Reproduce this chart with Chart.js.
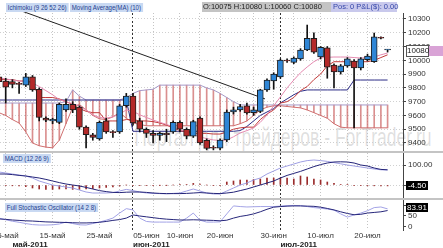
<!DOCTYPE html>
<html>
<head>
<meta charset="utf-8">
<script src="https://cdn.jsdelivr.net/npm/chart.js"></script>
<style>
html,body{margin:0;padding:0;background:#fff;}
body{width:443px;height:248px;overflow:hidden;position:relative;font-family:"Liberation Sans",Arial,sans-serif;}
canvas{position:absolute;left:0;z-index:1;}
#wm{position:absolute;right:11px;top:125px;font-size:25px;line-height:25px;color:rgba(110,110,110,0.22);white-space:nowrap;transform:scaleX(0.7);transform-origin:right top;z-index:0;}
.sep{position:absolute;left:0;width:443px;height:2px;background:#c4c4c4;z-index:2;}
.lb{position:absolute;z-index:3;font-size:7px;line-height:9px;height:9px;padding:0 2px;background:#c9d9f2;color:#23408f;white-space:nowrap;transform:scaleX(0.87);transform-origin:left top;}
#ohlc{position:absolute;z-index:3;left:202px;top:2px;width:195px;height:10px;background:#c4c4c4;color:#222;font-size:7.5px;line-height:10px;white-space:nowrap;}
#ohlc .t{position:absolute;left:1px;top:0;}
#ohlc .p{position:absolute;left:129px;top:0;width:66px;height:10px;background:#c9c9ec;color:#3345a8;padding-left:2px;box-sizing:border-box;}
.mk{position:absolute;z-index:3;font-size:8px;line-height:9px;height:9px;text-align:center;}
</style>
</head>
<body>
<div id="wm">Портал для трейдеров - ForTrader.ru</div>
<canvas id="cMain" width="443" height="151" style="top:0"></canvas>
<canvas id="cMacd" width="443" height="45" style="top:153px"></canvas>
<canvas id="cStoch" width="443" height="48" style="top:200px"></canvas>
<div class="sep" style="top:151px"></div>
<div class="sep" style="top:198px"></div>
<div class="lb" style="left:6px;top:3px">Ichimoku (9 26 52 26)</div>
<div class="lb" style="left:70px;top:3px">Moving Average(MA) (10)</div>
<div id="ohlc"><span class="t" id="ohlcText"></span><span class="p">Pos: 0 P&amp;L($): 0.00</span></div>
<div class="lb" style="left:3px;top:154px">MACD (12 26 9)</div>
<div class="lb" style="left:5px;top:203px">Full Stochastic Oscillator (14 2 8)</div>
<div class="mk" id="mkPrice" style="left:406px;top:45px;width:21px;height:10px;line-height:10px;border:1px solid #555;background:#fff;color:#222;"></div>
<div style="position:absolute;left:429px;top:46px;width:14px;height:10px;background:#d9a3d6;z-index:3"></div>
<div class="mk" id="mkMacd" style="left:406px;top:181px;width:22px;background:#000;color:#fff;"></div>
<div class="mk" id="mkStoch" style="left:406px;top:203px;width:22px;background:#000;color:#fff;"></div>
<script>
// ---------- DATA ----------
const dates = ['04.05','05.05','06.05','09.05','10.05','11.05','12.05','13.05','16.05','17.05','18.05','19.05','20.05','23.05','24.05','25.05','26.05','27.05','30.05','31.05',
'01.06','02.06','03.06','06.06','07.06','08.06','09.06','10.06','13.06','14.06','15.06','16.06','17.06','20.06','21.06','22.06','23.06','24.06','27.06','28.06','29.06','30.06',
'01.07','04.07','05.07','06.07','07.07','08.07','11.07','12.07','13.07','14.07','15.07','18.07','19.07','20.07','21.07','22.07','25.07'];

const open  = [9880,9850,9845,9830,9820,9880,9790,9580,9560,9550,9640,9680,9660,9515,9460,9430,9560,9480,9480,9670,9740,9560,9500,9470,9455,9470,9480,9550,9500,9450,9580,9420,9368,9362,9422,9625,9640,9670,9620,9630,9785,9850,9880,10000,9985,10010,10075,10160,10025,10090,9966,9915,9960,9995,9945,10005,9990,10165,10075];
const high  = [9900,9870,9860,9840,9905,9890,9800,9590,9580,9690,9720,9700,9670,9525,9470,9560,9580,9490,9680,9760,9760,9580,9510,9490,9480,9500,9560,9560,9510,9565,9590,9430,9380,9430,9640,9660,9680,9690,9660,9790,9865,9910,10010,10010,10025,10085,10256,10200,10100,10100,9975,9970,10020,10005,10020,10045,10198,10170,10080];
const low   = [9830,9690,9800,9760,9810,9775,9560,9555,9540,9540,9630,9620,9500,9365,9420,9420,9470,9440,9470,9660,9530,9480,9440,9400,9420,9410,9470,9480,9430,9440,9390,9350,9350,9350,9410,9610,9630,9610,9600,9620,9775,9790,9870,9985,9975,10000,10070,10050,10010,9870,9800,9900,9950,9510,9930,9995,9985,10155,10060];
const close = [9845,9806,9826,9825,9880,9785,9585,9565,9572,9680,9680,9640,9515,9460,9440,9550,9480,9475,9670,9740,9545,9500,9470,9455,9470,9460,9550,9500,9450,9555,9400,9360,9362,9422,9625,9640,9665,9618,9640,9785,9857,9900,10002,9995,10017,10075,10160,10060,10095,9950,9915,9960,10010,9945,10010,10030,10170,10160,10080];

const senkouA = [9620,9600,9570,9545,9480,9400,9380,9370,9365,9420,9540,9660,9680,9640,9600,9575,9570,9590,9620,9580,9545,9535,
9525,9525,9525,9525,9525,9525,9525,9525,9525,9525,9525,9525,9525,9525,
9540,9560,9600,9640,9660,9670,9670,9665,9660,9655,9640,9620,9600,9580,9540,9515,
9510,9510,9510,9510,9510,9510,9510];
const senkouB = [9690,9690,9690,9690,9690,9690,9690,9690,9690,9690,9700,9785,9740,9712,9712,9712,9712,9712,9712,9730,9760,9780,9785,9790,
9820,9820,9820,9820,9820,9820,9820,9800,9785,9760,9730,9700,
9676,9676,9676,9676,9676,9676,9676,9676,9676,9676,9676,9676,9676,9676,9676,9676,9676,9676,9676,9676,9676,9676,9676];
const kijun = [9712,9712,9712,9712,9712,9712,9712,9712,9712,9712,9712,9712,9712,9712,9712,9712,9712,9712,9712,9712,
9485,9485,9485,9485,9485,9485,9485,9485,9485,9485,9485,9485,9485,9485,9485,9485,
9490,9520,9560,9600,9625,9650,9690,9720,9750,9775,
9785,9785,9785,9785,9785,9785,9785,9857,9857,9857,9857,9857,9857];
const tenkan = [9860,9860,9860,9850,9850,9840,9730,9730,9730,9720,9700,9680,9650,9630,9620,9620,9560,9560,9560,9570,9570,9560,9560,9555,9545,9530,9510,9490,9480,9470,9470,9470,9465,9465,9480,9500,9510,9515,9515,9570,9610,9640,9690,9700,9730,9780,9810,9860,9900,9960,9990,9990,9990,9990,9990,9990,10000,10020,10040];
const ma10 = [9872,9865,9857,9850,9845,9835,9810,9780,9750,9715,9700,9685,9670,9640,9605,9585,9580,9590,9610,9640,9630,9605,9585,9567,9550,9535,9516,9500,9480,9460,9444,9432,9422,9418,9422,9445,9473,9490,9509,9550,9603,9670,9734,9800,9857,9910,9952,9990,10017,10022,10024,10024,10024,10020,10017,10020,10024,10040,10053];
const trendIdx = [2.7, 39.7];
const trendPrice = [10370, 9720];

const macd = [65,60,55,50,45,35,20,10,0,-5,-10,-15,-25,-35,-40,-40,-40,-38,-30,-22,-28,-35,-40,-42,-43,-44,-42,-40,-30,-20,-30,-40,-45,-45,-30,-15,0,10,25,35,55,70,85,95,105,115,122,125,122,118,112,106,100,95,90,85,80,76,75];
const signal = [55,55,52,48,45,40,35,28,20,12,5,0,-5,-12,-20,-28,-33,-37,-38,-36,-35,-35,-37,-40,-42,-43,-43,-43,-42,-40,-38,-40,-42,-43,-40,-36,-28,-20,-10,0,10,20,35,48,58,68,80,92,102,110,115,116,115,110,100,95,85,78,76];
const hist = [-2,-3,-4,-5,-8,-15,-20,-22,-22,-20,-20,-22,-22,-20,-18,-15,-12,-10,-5,0,-2,-3,-3,-2,-1,-1,0,2,3,8,5,0,-2,-2,15,20,25,25,28,30,35,35,35,35,30,45,40,30,25,15,8,3,2,-3,-3,-4,-4,-4,-4.5];

const stochK = [40,32,25,20,14,9,7,7,8,12,21,14,8,7,14,21,30,40,64,85,79,40,24,21,21,21,21,21,40,64,30,21,21,22,60,98,95,93,94,95,95,95,97,99,100,99,95,90,87,83,78,60,45,55,64,75,90,93,83.91];
const stochD = [36,34,31,29,27,26,24,22,21,20,19,18,17,17,18,20,24,29,33,40,55,50,46,42,38,35,33,31,31,32,31,30,29,27,30,40,48,53,60,70,82,92,95,97,98,98,97,96,92,86,79,70,62,56,58,64,67,70,76];

const gridDates = ['05.05','10.05','16.05','20.05','25.05','30.05','06.06','10.06','15.06','20.06','27.06','30.06','05.07','11.07','15.07','20.07'];
const monthStartDates = ['01.06','01.07'];
const dayLabelDates = ['05.05','16.05','25.05','03.06','10.06','20.06','30.06','11.07','20.07'];
const dayLabels = ['05-май','15-май','25-май','05-июн','10-июн','20-июн','30-июн','10-июл','20-июл'];
const monthLabelDates = ['06.05','01.06','01.07'];
const monthLabels = ['май-2011','июн-2011','июл-2011'];
const priceTicks = [9400,9500,9600,9700,9800,9900,10000,10100,10200,10300];
const macdTicks = [0,100];
const stochTicks = [0,20,50,80,100];
const stochLevels = [20,80];
const stochLabeled = [0,50,100];

// ---------- BUILD ----------
const N = dates.length;
const idx = dates.map((d,i)=>i);
const pos = d => dates.indexOf(d);
const X_MIN = 0.149, X_MAX = 60.3;

const xt = new Map();
gridDates.forEach(d => xt.set(pos(d), {kind:'grid', label:''}));
monthStartDates.forEach(d => xt.set(pos(d), {kind:'month', label:''}));
dayLabelDates.forEach((d,k) => { const p = pos(d); const t = xt.get(p) || {kind:'none', label:''}; t.label = dayLabels[k]; xt.set(p,t); });
const xTicks = [...xt.entries()].sort((a,b)=>a[0]-b[0]).map(([v,t])=>({value:v, kind:t.kind, label:t.label}));
const monthTicks = monthLabelDates.map(pos);

Chart.defaults.font.family = '"Liberation Sans", Arial, sans-serif';
Chart.defaults.font.size = 8;

function xScale(showLabels){
  return {
    type:'linear', min:X_MIN, max:X_MAX, offset:false, bounds:'data',
    afterBuildTicks: s => { s.ticks = xTicks.map(t=>({value:t.value})); },
    afterFit: s => { s.paddingLeft = 0; s.paddingRight = 0; s.height = showLabels ? 9 : 0; },
    ticks:{ display:showLabels, autoSkip:false, maxRotation:0, minRotation:0, padding:1, color:'#333', font:{size:8},
      callback:(v,i)=> xTicks[i] ? xTicks[i].label : '' },
    grid:{ drawTicks:false, offset:false, lineWidth:1,
      color: ctx => { const t = xTicks[ctx.index]; if(!t) return 'rgba(0,0,0,0)'; return t.kind==='month' ? '#333' : (t.kind==='grid' ? '#c4c4c4' : 'rgba(0,0,0,0)'); } },
    border:{ display:false, dash: ctx => { const t = xTicks[ctx.index]; return (t && t.kind==='month') ? [2,2] : [1,2]; } }
  };
}
function yScale(min, max, ticks, cb, extra){
  return Object.assign({
    type:'linear', position:'right', min, max, bounds:'data',
    afterBuildTicks: s => { s.ticks = ticks.map(v=>({value:v})); },
    afterFit: s => { s.width = 40; s.paddingTop = 0; s.paddingBottom = 0; },
    ticks:{ color:'#333', font:{size:8}, padding:2, callback: cb },
    grid:{ color:'#d0d0d0', tickColor:'#444', tickLength:3, drawTicks:true, tickBorderDash:[] },
    border:{ display:true, color:'#444', width:1, dash:[1,2] }
  }, extra || {});
}
const pts = arr => arr.map((v,i)=>({x:i, y:v}));
const line = (arr, color, order) => ({type:'line', data:pts(arr), borderColor:color, borderWidth:1, pointRadius:0, tension:0, fill:false, order});
const baseOpts = (padTop) => ({responsive:false, animation:false, events:[], layout:{padding:{top:padTop,left:0,right:0,bottom:0}},
  plugins:{legend:{display:false}, tooltip:{enabled:false}}});

// main price chart
new Chart(document.getElementById('cMain'), {
  type:'bar',
  data:{ datasets:[
    {type:'bar', data: idx.map(i=>({x:i, y:[senkouA[i], senkouB[i]]})), backgroundColor:'rgba(205,105,105,0.75)', barThickness:1, grouped:false, order:20},
    line(senkouA, '#cf6f6f', 15),
    line(senkouB, '#a69ac8', 15),
    line(kijun, '#2c2c86', 14),
    line(tenkan, '#c23b3b', 13),
    line(ma10, '#e58ab0', 12),
    {type:'line', data: trendIdx.map((x,k)=>({x, y:trendPrice[k]})), borderColor:'#222', borderWidth:1, pointRadius:0, order:11, clip:false},
    {type:'bar', data: idx.map(i=>({x:i, y:[low[i], high[i]]})), backgroundColor:'#111', barThickness:1, grouped:false, order:5},
    {type:'bar', data: idx.map(i=>({x:i, y:[open[i], close[i]]})), backgroundColor: idx.map(i=> close[i]>=open[i] ? '#2f86d6' : '#b42a2a'),
      borderColor:'#1e1e1e', borderWidth:1, borderSkipped:false, barThickness:6, minBarLength:1, grouped:false, order:4}
  ]},
  options: Object.assign(baseOpts(13), { scales:{ x: xScale(false), y: yScale(9341.9, 10343.5, priceTicks, v => String(v)) } })
});

// MACD chart
new Chart(document.getElementById('cMacd'), {
  type:'bar',
  data:{ datasets:[
    {type:'bar', data: pts(hist), backgroundColor:'#9a2c2c', barThickness:1, grouped:false, order:10},
    line(macd, '#9f9fe3', 5),
    line(signal, '#242478', 4)
  ]},
  options: Object.assign(baseOpts(0), { scales:{ x: xScale(false), y: yScale(-65, 160, macdTicks, v => Number(v).toFixed(2)) } })
});

// Stochastic chart
const stochY = yScale(-16.7, 126.2, stochTicks, v => stochLabeled.includes(v) ? String(v) : '');
stochY.grid = {
  color: ctx => (ctx.tick && stochLevels.includes(ctx.tick.value)) ? '#9a9a9a' : 'rgba(0,0,0,0)',
  tickColor: ctx => (ctx.tick && stochLabeled.includes(ctx.tick.value)) ? '#444' : 'rgba(0,0,0,0)',
  tickLength:3, drawTicks:true, tickBorderDash:[]
};
stochY.border = { display:true, color:'#444', width:1, dash:[] };
new Chart(document.getElementById('cStoch'), {
  type:'line',
  data:{ datasets:[
    line(stochK, '#a3a3e6', 5),
    line(stochD, '#26267a', 4)
  ]},
  options: Object.assign(baseOpts(0), { scales:{
    x: xScale(true),
    xm: { type:'linear', position:'bottom', weight:1, min:X_MIN, max:X_MAX, offset:false, bounds:'data',
      afterBuildTicks: s => { s.ticks = monthTicks.map(v=>({value:v})); },
      afterFit: s => { s.paddingLeft = 0; s.paddingRight = 0; s.height = 9; },
      ticks:{ autoSkip:false, maxRotation:0, minRotation:0, align:'start', padding:1, color:'#222', font:{size:8, weight:'bold'},
        callback:(v,i)=> monthLabels[i] || '' },
      grid:{ display:false, drawTicks:false }, border:{ display:false } },
    y: stochY
  } })
});

// HTML readouts from data
const L = N-1;
document.getElementById('ohlcText').textContent = 'O:'+open[L]+'  H:'+high[L]+'  L:'+low[L]+'  C:'+close[L];
document.getElementById('mkPrice').textContent = String(close[L]);
document.getElementById('mkMacd').textContent = hist[L].toFixed(2);
document.getElementById('mkStoch').textContent = stochK[L].toFixed(2);
</script>
</body>
</html>
